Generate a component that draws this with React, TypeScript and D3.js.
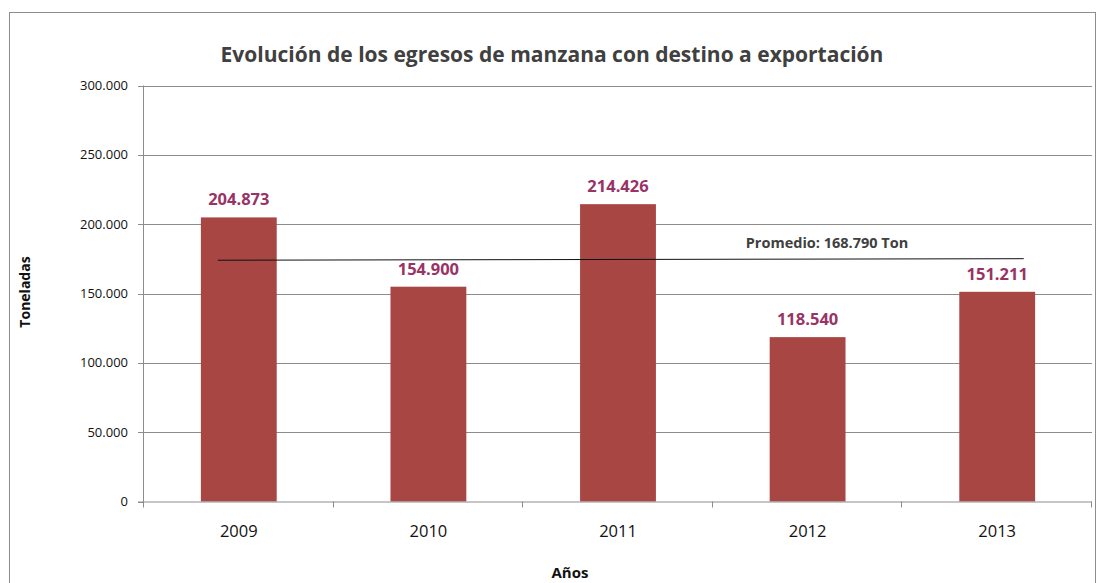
import { useEffect, useRef } from 'react';
import * as d3 from 'd3';

// data
const years = ['2009', '2010', '2011', '2012', '2013'];
const tons = [204873, 154900, 214426, 118540, 151211];
const yTicks = [0, 50000, 100000, 150000, 200000, 250000, 300000];
const avgLabel = 'Promedio: 168.790 Ton';
// hand drawn average line in the original: ends in category units and values
const avgLineCat = [0.39, 4.64];
const avgLineVal = [174000, 175100];

const W = 1097;
const H = 583;

const App = () => {
  const svgRef = useRef(null);

  useEffect(() => {
    document.body.style.margin = '0';
    const svg = d3.select(svgRef.current);
    svg.selectAll('*').remove();

    const left = 144, right = 1092, top = 85.5, bottom = 501.5;
    const font = '"Open Sans", sans-serif';
    const grey = '#8c8c8c';

    const loc = d3.formatLocale({ decimal: ',', thousands: '.', grouping: [3], currency: ['', ''] });
    const fmt = loc.format(',d');

    const x = d3.scaleBand().domain(years).range([left, right]).paddingInner(0.6).paddingOuter(0.3);
    const xCat = d3.scaleLinear().domain([0, years.length]).range([left, right]);
    const y = d3.scaleLinear().domain([0, 300000]).range([bottom, top]);

    // chart frame
    svg.append('rect')
      .attr('x', 9.5).attr('y', 12.5)
      .attr('width', 1086).attr('height', 600)
      .attr('fill', 'white').attr('stroke', grey).attr('stroke-width', 1);

    // gridlines
    svg.append('g')
      .selectAll('line')
      .data(yTicks.filter(d => d > 0))
      .enter()
      .append('line')
      .attr('x1', left).attr('x2', right)
      .attr('y1', d => Math.round(y(d)) + 0.5).attr('y2', d => Math.round(y(d)) + 0.5)
      .attr('stroke', grey).attr('stroke-width', 1);

    // bars
    svg.append('g')
      .selectAll('rect')
      .data(tons)
      .enter()
      .append('rect')
      .attr('x', (d, i) => x(years[i]))
      .attr('width', x.bandwidth())
      .attr('y', d => y(d))
      .attr('height', d => y(0) - y(d))
      .attr('fill', '#a84644');

    // value labels
    svg.append('g')
      .selectAll('text')
      .data(tons)
      .enter()
      .append('text')
      .attr('x', (d, i) => x(years[i]) + x.bandwidth() / 2)
      .attr('y', d => y(d) - 12)
      .attr('text-anchor', 'middle')
      .style('font-family', font)
      .style('font-size', '16.5px')
      .style('font-weight', 'bold')
      .attr('fill', '#993366')
      .text(d => fmt(d));

    // y axis
    svg.append('line')
      .attr('x1', left - 0.5).attr('x2', left - 0.5)
      .attr('y1', top).attr('y2', bottom + 0.5)
      .attr('stroke', grey);
    const yt = svg.append('g').selectAll('g').data(yTicks).enter().append('g');
    yt.append('line')
      .attr('x1', left - 6).attr('x2', left)
      .attr('y1', d => Math.round(y(d)) + 0.5).attr('y2', d => Math.round(y(d)) + 0.5)
      .attr('stroke', grey);
    yt.append('text')
      .attr('x', 128)
      .attr('y', d => y(d) + 4.5)
      .attr('text-anchor', 'end')
      .style('font-family', font)
      .style('font-size', '13px')
      .attr('fill', '#111')
      .text(d => fmt(d));

    // x axis
    svg.append('line')
      .attr('x1', left - 6).attr('x2', right)
      .attr('y1', bottom + 0.5).attr('y2', bottom + 0.5)
      .attr('stroke', grey);
    svg.append('g')
      .selectAll('line')
      .data(d3.range(years.length + 1))
      .enter()
      .append('line')
      .attr('x1', d => Math.round(xCat(d)) - 0.5).attr('x2', d => Math.round(xCat(d)) - 0.5)
      .attr('y1', bottom).attr('y2', bottom + 6)
      .attr('stroke', grey);
    svg.append('g')
      .selectAll('text')
      .data(years)
      .enter()
      .append('text')
      .attr('x', d => x(d) + x.bandwidth() / 2)
      .attr('y', 537)
      .attr('text-anchor', 'middle')
      .style('font-family', font)
      .style('font-size', '16.5px')
      .attr('fill', '#111')
      .text(d => d);

    // average line + label
    svg.append('line')
      .attr('x1', xCat(avgLineCat[0])).attr('x2', xCat(avgLineCat[1]))
      .attr('y1', y(avgLineVal[0])).attr('y2', y(avgLineVal[1]))
      .attr('stroke', '#111').attr('stroke-width', 1);
    svg.append('text')
      .attr('x', 827)
      .attr('y', 248)
      .attr('text-anchor', 'middle')
      .style('font-family', font)
      .style('font-size', '14.5px')
      .style('font-weight', 'bold')
      .attr('fill', '#404040')
      .text(avgLabel);

    // titles
    svg.append('text')
      .attr('x', 552)
      .attr('y', 62)
      .attr('text-anchor', 'middle')
      .style('font-family', font)
      .style('font-size', '21px')
      .style('font-weight', 'bold')
      .attr('fill', '#404040')
      .text('Evolución de los egresos de manzana con destino a exportación');

    svg.append('text')
      .attr('transform', 'translate(30,292) rotate(-90)')
      .attr('text-anchor', 'middle')
      .style('font-family', font)
      .style('font-size', '14px')
      .style('font-weight', 'bold')
      .attr('fill', '#111')
      .text('Toneladas');

    svg.append('text')
      .attr('x', 570)
      .attr('y', 578)
      .attr('text-anchor', 'middle')
      .style('font-family', font)
      .style('font-size', '15px')
      .style('font-weight', 'bold')
      .attr('fill', '#111')
      .text('Años');
  }, []);

  return <svg ref={svgRef} width={W} height={H} style={{ display: 'block', background: 'white' }}></svg>;
};

export default App;
